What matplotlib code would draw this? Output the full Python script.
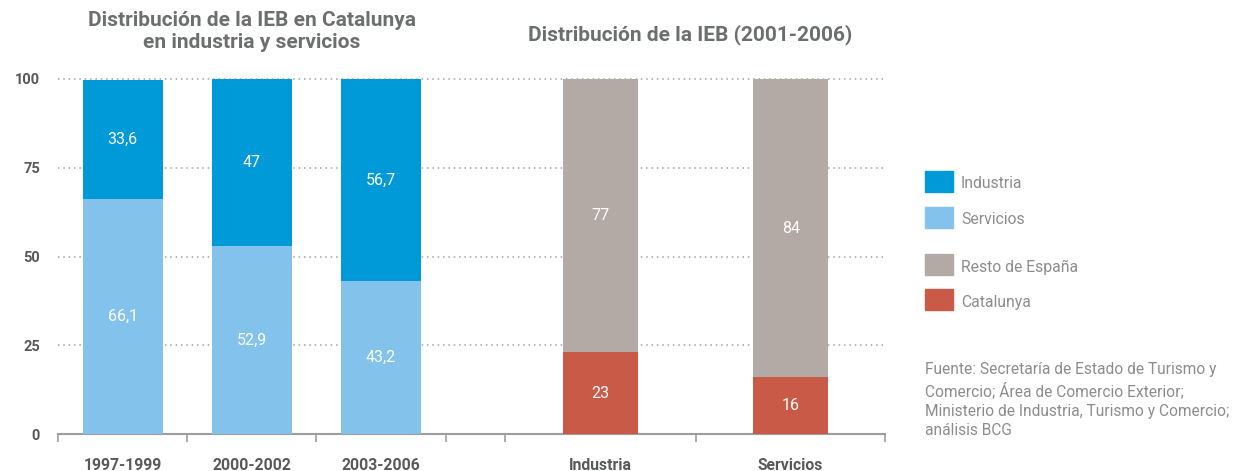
import matplotlib.pyplot as plt
from matplotlib.patches import Rectangle

plt.rcParams['font.family'] = ['Roboto', 'DejaVu Sans']

# ----------------- Data -----------------
periodos = ["1997-1999", "2000-2002", "2003-2006"]
servicios = [66.1, 52.9, 43.2]
industria = [33.6, 47, 56.7]

sectores = ["Industria", "Servicios"]
catalunya = [23, 16]
resto_espana = [77, 84]

fuente = ("Fuente: Secretaría de Estado de Turismo y\n"
          "Comercio; Área de Comercio Exterior;\n"
          "Ministerio de Industria, Turismo y Comercio;\n"
          "análisis BCG")

# ----------------- Colours -----------------
C_IND = "#009ad9"
C_SERV = "#82c2eb"
C_RESTO = "#b3a9a5"
C_CAT = "#c95a47"
GREY_TITLE = "#6d6e70"
GREY_TICK = "#58595b"
GREY_TEXT = "#8c8c8c"

def fmt(v):
    return f"{v:g}".replace(".", ",")

# ----------------- Figure -----------------
fig = plt.figure(figsize=(12.4, 4.71), dpi=100)
ax = fig.add_axes([58 / 1240, 1 - 434 / 471, (885 - 58) / 1240, (434 - 79) / 471])

# positions (category units)
left_x = [0, 1, 2]
right_x = [3.70, 5.17]
w_left = 0.62
w_right = 0.58

ax.bar(left_x, servicios, width=w_left, color=C_SERV, zorder=3)
ax.bar(left_x, industria, width=w_left, bottom=servicios, color=C_IND, zorder=3)
ax.bar(right_x, catalunya, width=w_right, color=C_CAT, zorder=3)
ax.bar(right_x, resto_espana, width=w_right, bottom=catalunya, color=C_RESTO, zorder=3)

lbl = dict(ha="center", va="center", color="white", fontsize=11.5, zorder=4)
for x, s, i in zip(left_x, servicios, industria):
    ax.text(x, s / 2, fmt(s), **lbl)
    ax.text(x, s + i / 2, fmt(i), **lbl)
for x, c, r in zip(right_x, catalunya, resto_espana):
    ax.text(x, c / 2, fmt(c), **lbl)
    ax.text(x, c + r / 2, fmt(r), **lbl)

ax.set_xlim(-0.5, 5.9)
ax.set_ylim(0, 100)

# axes styling
for s in ["left", "right", "top"]:
    ax.spines[s].set_visible(False)
ax.spines["bottom"].set_color("#9d9d9d")
ax.spines["bottom"].set_linewidth(1.5)

ax.set_yticks([0, 25, 50, 75, 100])
ax.set_yticklabels(["0", "25", "50", "75", "100"], fontweight="bold",
                   color=GREY_TICK, fontsize=10.5)
ax.tick_params(axis="y", length=0, pad=13)
ax.yaxis.grid(True, linestyle=(0, (1, 2.5)), color="#a0a0a0", linewidth=1.1, zorder=0)
for gl in ax.yaxis.get_gridlines():
    gl.set_clip_on(False)

ax.set_xticks(left_x + right_x)
ax.set_xticklabels(periodos + sectores, fontweight="bold", color=GREY_TICK, fontsize=11.3)
ax.tick_params(axis="x", which="major", length=0, pad=17)
ax.set_xticks([-0.5, 0.5, 1.5, 2.5, 2.96, 4.44, 5.9], minor=True)
ax.tick_params(axis="x", which="minor", length=6, width=1.2, color="#9d9d9d", direction="out")

# titles
fig.text(252 / 1240, 1 - 32 / 471, "Distribución de la IEB en Catalunya\nen industria y servicios",
         ha="center", va="center", fontsize=15, fontweight="bold", color=GREY_TITLE,
         linespacing=1.2)
fig.text(690 / 1240, 1 - 35 / 471, "Distribución de la IEB (2001-2006)",
         ha="center", va="center", fontsize=15, fontweight="bold", color=GREY_TITLE)

# legend
legend_items = [("Industria", C_IND, 181), ("Servicios", C_SERV, 217),
                ("Resto de España", C_RESTO, 264), ("Catalunya", C_CAT, 299)]
for name, col, yc in legend_items:
    fig.patches.append(Rectangle((925 / 1240, 1 - (yc + 10.5) / 471), 28 / 1240, 21 / 471,
                                 transform=fig.transFigure, color=col))
    fig.text(961 / 1240, 1 - (yc + 3) / 471, name, ha="left", va="center",
             fontsize=11.3, color=GREY_TEXT)

fig.text(925 / 1240, 1 - 362 / 471, fuente, ha="left", va="top", fontsize=11.2,
         color=GREY_TEXT, linespacing=1.38)

fig.savefig("out.png", dpi=100)
